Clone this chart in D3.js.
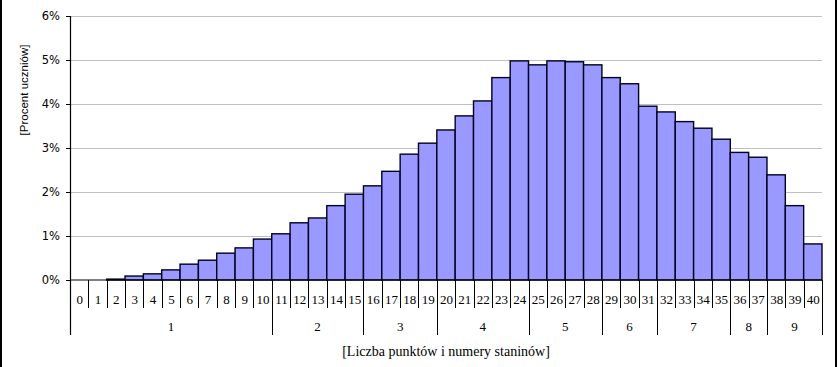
<!DOCTYPE html>
<html>
<head>
<meta charset="utf-8">
<script src="https://cdn.jsdelivr.net/npm/d3@7/dist/d3.min.js"></script>
<style>
  html, body { margin: 0; padding: 0; background: #fff; }
  svg { display: block; }
</style>
</head>
<body>
<svg id="chart" width="838" height="367"></svg>
<script>
// ---- data ----
const categories = d3.range(0, 41).map(String);
const percentValues = [
  0, 0, 0.02, 0.09, 0.14, 0.23, 0.36, 0.45, 0.61, 0.73,
  0.93, 1.05, 1.30, 1.41, 1.69, 1.95, 2.14, 2.47, 2.86, 3.11,
  3.41, 3.73, 4.07, 4.60, 4.98, 4.89, 4.98, 4.96, 4.89, 4.60,
  4.46, 3.95, 3.82, 3.60, 3.45, 3.20, 2.90, 2.79, 2.39, 1.69,
  0.82
];
const stanineLabels = ["1", "2", "3", "4", "5", "6", "7", "8", "9"];
const stanineFirstScore = [0, 11, 16, 20, 25, 29, 32, 36, 38];
const yTickValues = [0, 1, 2, 3, 4, 5, 6];
const yTitle = "[Procent uczniów]";
const xTitle = "[Liczba punktów i numery staninów]";

// ---- layout ----
const svg = d3.select("#chart");
const plotLeft = 70, plotRight = 822, plotTop = 16, plotBottom = 280;
const catTickBottom = 308, groupTickBottom = 335;

const x = d3.scaleBand().domain(categories).range([plotLeft, plotRight]).padding(0);
const y = d3.scaleLinear().domain([0, 6]).range([plotBottom, plotTop]);

// outer frame lines
svg.append("line").attr("x1", 1).attr("x2", 1).attr("y1", 0).attr("y2", 367)
  .attr("stroke", "#000").attr("stroke-width", 2);
svg.append("line").attr("x1", 836).attr("x2", 836).attr("y1", 0).attr("y2", 367)
  .attr("stroke", "#000").attr("stroke-width", 2);

// gridlines
svg.append("g").selectAll("line").data(yTickValues.filter(d => d > 0)).join("line")
  .attr("x1", plotLeft).attr("x2", plotRight)
  .attr("y1", d => Math.round(y(d)) + 0.5).attr("y2", d => Math.round(y(d)) + 0.5)
  .attr("stroke", "#c0c0c0").attr("stroke-width", 1);

// bars
svg.append("g").selectAll("rect").data(percentValues).join("rect")
  .attr("x", (d, i) => x(categories[i]))
  .attr("y", d => y(d))
  .attr("width", x.bandwidth())
  .attr("height", d => plotBottom - y(d))
  .attr("fill", "#9999ff")
  .attr("stroke", d => d > 0 ? "#000022" : "none")
  .attr("stroke-width", 1.4);

// y axis
const yAxis = d3.axisLeft(y).tickValues(yTickValues).tickSize(4).tickPadding(6)
  .tickFormat(d => d + "%");
const gy = svg.append("g").attr("transform", `translate(${plotLeft},0)`).call(yAxis);
gy.select(".domain").remove();
gy.selectAll(".tick line").attr("stroke", "#000");
gy.selectAll(".tick text")
  .attr("font-family", "'DejaVu Sans', sans-serif").attr("font-size", 11.5).attr("fill", "#000");
svg.append("line").attr("x1", plotLeft + 0.5).attr("x2", plotLeft + 0.5)
  .attr("y1", plotTop).attr("y2", groupTickBottom).attr("stroke", "#000").attr("stroke-width", 1.2);

// x axis baseline
svg.append("line").attr("x1", plotLeft).attr("x2", plotRight)
  .attr("y1", plotBottom).attr("y2", plotBottom).attr("stroke", "#000").attr("stroke-width", 1.2);

// category tick lines (band boundaries)
const boundaries = categories.map(c => x(c)).concat([x(categories[categories.length - 1]) + x.bandwidth()]);
const groupBoundaryPos = stanineFirstScore.map(s => x(String(s))).concat([plotRight]);
svg.append("g").selectAll("line").data(boundaries).join("line")
  .attr("x1", d => Math.round(d) + 0.5).attr("x2", d => Math.round(d) + 0.5)
  .attr("y1", plotBottom).attr("y2", d => groupBoundaryPos.some(g => Math.abs(g - d) < 0.5) ? groupTickBottom : catTickBottom)
  .attr("stroke", "#000").attr("stroke-width", 1);

// category labels
svg.append("g").selectAll("text").data(categories).join("text")
  .attr("x", d => x(d) + x.bandwidth() / 2 + 0.5)
  .attr("y", 304)
  .attr("text-anchor", "middle")
  .attr("font-family", "'Liberation Serif', serif").attr("font-size", 13)
  .text(d => d);

// stanine labels
svg.append("g").selectAll("text").data(stanineLabels).join("text")
  .attr("x", (d, i) => (groupBoundaryPos[i] + groupBoundaryPos[i + 1]) / 2)
  .attr("y", 331)
  .attr("text-anchor", "middle")
  .attr("font-family", "'Liberation Serif', serif").attr("font-size", 13)
  .text(d => d);

// axis titles
svg.append("text").attr("x", 446).attr("y", 356).attr("text-anchor", "middle")
  .attr("font-family", "'Liberation Serif', serif").attr("font-size", 14)
  .text(xTitle);
svg.append("text")
  .attr("transform", "translate(28,90) rotate(-90)")
  .attr("text-anchor", "middle")
  .attr("font-family", "'Liberation Sans', sans-serif").attr("font-size", 11.5)
  .text(yTitle);
</script>
</body>
</html>
